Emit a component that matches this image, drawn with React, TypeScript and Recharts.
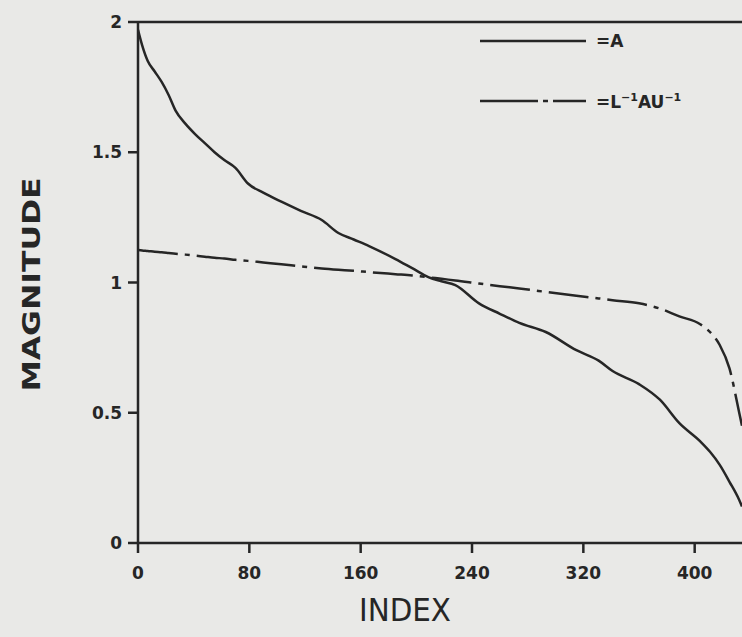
import { LineChart, Line, XAxis, YAxis, ReferenceLine, Legend } from 'recharts'

// index positions
const indexValues = [0, 3, 7, 12, 17, 22, 27, 34, 41, 48, 55, 62, 70, 79, 90, 103, 117, 132, 144, 155, 166, 185, 197, 209, 218, 228, 245, 260, 274, 293, 315, 331, 341, 360, 375, 389, 404, 411, 418, 425, 432, 434]

// magnitude of A (solid)
const seriesA = [1.97, 1.91, 1.85, 1.81, 1.77, 1.72, 1.66, 1.61, 1.57, 1.535, 1.5, 1.47, 1.44, 1.38, 1.345, 1.31, 1.275, 1.24, 1.19, 1.165, 1.14, 1.09, 1.055, 1.02, 1.005, 0.99, 0.92, 0.88, 0.845, 0.81, 0.74, 0.7, 0.66, 0.61, 0.55, 0.46, 0.39, 0.35, 0.3, 0.235, 0.165, 0.14]

// magnitude of L^-1 A U^-1 (dash-dot)
const seriesLAU = [1.125, 1.123, 1.121, 1.118, 1.116, 1.113, 1.11, 1.107, 1.103, 1.099, 1.095, 1.092, 1.087, 1.083, 1.077, 1.07, 1.062, 1.054, 1.049, 1.045, 1.04, 1.032, 1.027, 1.02, 1.014, 1.008, 0.996, 0.986, 0.977, 0.964, 0.949, 0.939, 0.932, 0.92, 0.9, 0.87, 0.84, 0.81, 0.76, 0.67, 0.5, 0.45]

const xTicks = [0, 80, 160, 240, 320, 400]
const yTicks = [0, 0.5, 1, 1.5, 2]

const INK = '#262626'
const FONT = '"DejaVu Sans", Arial, sans-serif'
const DASH_DOT = '40 7 5 7'

const data = indexValues.map((x, i) => ({ index: x, a: seriesA[i], lau: seriesLAU[i] }))

const tickStyle = { fill: INK, fontSize: 17, fontWeight: 700, fontFamily: FONT }

function LegendBox() {
  const row = (dash: string | undefined, label: React.ReactNode) => (
    <div style={{ display: 'flex', alignItems: 'center', height: 24, marginBottom: 36 }}>
      <svg width={106} height={6} style={{ marginRight: 10 }}>
        <line x1={0} y1={3} x2={106} y2={3} stroke={INK} strokeWidth={2.5} strokeDasharray={dash} />
      </svg>
      <span style={{ fontFamily: FONT, fontWeight: 700, fontSize: 17, color: INK }}>{label}</span>
    </div>
  )
  return (
    <div>
      {row(undefined, '=A')}
      {row('58 5 5 5', <>=L<sup style={{ fontSize: 11 }}>−1</sup>AU<sup style={{ fontSize: 11 }}>−1</sup></>)}
    </div>
  )
}

export default function App() {
  return (
    <div style={{ position: 'absolute', left: 0, top: 0, width: 742, height: 637, background: '#e9e9e7' }}>
      <LineChart width={742} height={637} data={data} margin={{ top: 22, right: 0, bottom: 0, left: 0 }}>
        <XAxis
          dataKey="index"
          type="number"
          domain={[0, 434]}
          ticks={xTicks}
          allowDataOverflow
          height={94}
          tickSize={10}
          tickMargin={14}
          tick={tickStyle}
          stroke={INK}
          strokeWidth={2.5}
          label={{
            content: (props: any) => {
              const vb = props.viewBox
              return (
                <text x={vb.x + 267} y={vb.y + 78} textAnchor="middle" fill={INK} fontFamily={FONT} fontSize={32} textLength={92} lengthAdjust="spacingAndGlyphs">
                  INDEX
                </text>
              )
            }
          }}
        />
        <YAxis
          domain={[0, 2]}
          ticks={yTicks}
          width={138}
          tickSize={10}
          tickMargin={6}
          tick={tickStyle}
          stroke={INK}
          strokeWidth={2.5}
          label={{
            content: (props: any) => {
              const vb = props.viewBox
              const cx = 40
              const cy = vb.y + vb.height / 2 + 2
              return (
                <text x={cx} y={cy} transform={`rotate(-90 ${cx} ${cy})`} textAnchor="middle" fill={INK} fontFamily={FONT} fontWeight={700} fontSize={25} textLength={214} lengthAdjust="spacingAndGlyphs">
                  MAGNITUDE
                </text>
              )
            }
          }}
        />
        <ReferenceLine y={2} stroke={INK} strokeWidth={2.5} />
        <Legend layout="horizontal" verticalAlign="middle" align="center" content={<LegendBox />} wrapperStyle={{ top: 29, left: 480, width: 240 }} />
        <Line type="monotone" dataKey="a" stroke={INK} strokeWidth={2.5} dot={false} isAnimationActive={false} />
        <Line type="monotone" dataKey="lau" stroke={INK} strokeWidth={2.5} strokeDasharray={DASH_DOT} dot={false} isAnimationActive={false} />
      </LineChart>
    </div>
  )
}
